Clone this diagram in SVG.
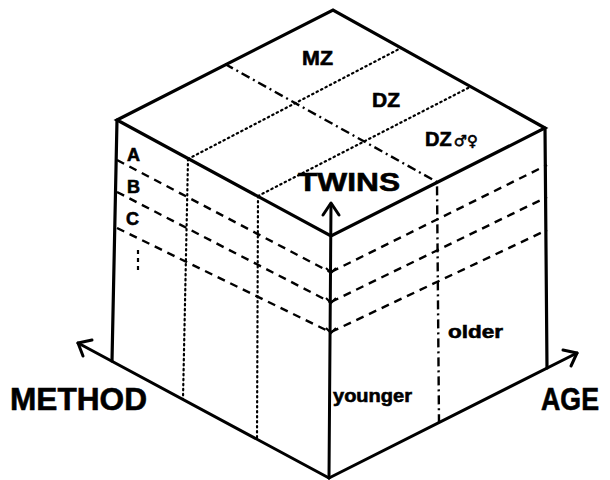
<svg xmlns="http://www.w3.org/2000/svg" width="610" height="480" viewBox="0 0 610 480">
<style>
.edge{fill:none;stroke:#000;stroke-width:3.2;stroke-linejoin:miter;stroke-linecap:round}
.axis{fill:none;stroke:#000;stroke-width:3;stroke-linecap:round;stroke-linejoin:round}
.dash{fill:none;stroke:#000;stroke-width:2.4;stroke-dasharray:8 6}
.dot{fill:none;stroke:#000;stroke-width:2.2;stroke-dasharray:1.4 3.6;stroke-linecap:round}
.dashdot{fill:none;stroke:#000;stroke-width:2.4;stroke-dasharray:9 4 2 4}
.tick{fill:none;stroke:#000;stroke-width:2}
text{font-family:"Liberation Sans",Arial,sans-serif;font-weight:bold;fill:#000;stroke:#000;stroke-width:0.6}
.sym{font-family:"DejaVu Sans",sans-serif;font-weight:bold}
</style>
<rect width="610" height="480" fill="#fff"/>
<g id="connectors">
  <g id="grid-lines">
    <path class="dash" d="M117,160 L330,272 M117,192 L330,302 M117,228 L330,332"/>
    <path class="dash" d="M331,272 L547,165 M331,302 L547,197 M331,332 L547,230"/>
    <path class="dot" d="M188,159 L183,399 M258,196 L257,439"/>
    <path class="dot" d="M188,159 L401,48 M258,196 L470,87"/>
    <path class="dashdot" d="M225,64 L437,182 L439,423"/>
    <path class="dot" d="M138,250 L138,274" style="stroke-dasharray:4 4;stroke-linecap:butt"/>
  </g>
  <g id="cube-edges">
    <path class="edge" d="M117,120 L333,10 L545,128 L331,236 Z"/>
    <path class="edge" d="M117,120 L112,361 M545,128 L547,368"/>
    <path class="tick" d="M326,268 L331,273 L336,268 M326,298 L331,303 L336,298 M326,328 L331,333 L336,328"/>
  </g>
  <g id="axis-twins">
    <path class="axis" d="M329,478 L331,204"/>
    <path class="axis" d="M323,215 L331,203 L339,215"/>
  </g>
  <g id="axis-method">
    <path class="axis" d="M329,478 L78,343"/>
    <path class="axis" d="M92,340 L78,343 L83,356"/>
  </g>
  <g id="axis-age">
    <path class="axis" d="M329,478 L577,353"/>
    <path class="axis" d="M563,350 L577,353 L571,366"/>
  </g>
</g>
<g id="top-labels">
  <g id="mz"><text x="302" y="65" font-size="21" textLength="31" lengthAdjust="spacingAndGlyphs">MZ</text></g>
  <g id="dz"><text x="372" y="107" font-size="21" textLength="28" lengthAdjust="spacingAndGlyphs">DZ</text></g>
  <g id="dz-os"><text x="425" y="146" font-size="20">DZ<tspan class="sym" font-size="15" dx="2">♂♀</tspan></text></g>
</g>
<g id="method-labels">
  <g id="a"><text x="127" y="161" font-size="18">A</text></g>
  <g id="b"><text x="127" y="193" font-size="18">B</text></g>
  <g id="c"><text x="126" y="225" font-size="18">C</text></g>
</g>
<g id="age-labels">
  <g id="younger"><text x="333" y="402" font-size="19" textLength="79" lengthAdjust="spacingAndGlyphs">younger</text></g>
  <g id="older"><text x="448" y="338" font-size="19" textLength="55" lengthAdjust="spacingAndGlyphs">older</text></g>
</g>
<g id="axis-labels">
  <g id="twins"><text x="298" y="191" font-size="26" textLength="102" lengthAdjust="spacingAndGlyphs">TWINS</text></g>
  <g id="method"><text x="10" y="410" font-size="32" textLength="137" lengthAdjust="spacingAndGlyphs">METHOD</text></g>
  <g id="age"><text x="541" y="410" font-size="31" textLength="58" lengthAdjust="spacingAndGlyphs">AGE</text></g>
</g>
</svg>
